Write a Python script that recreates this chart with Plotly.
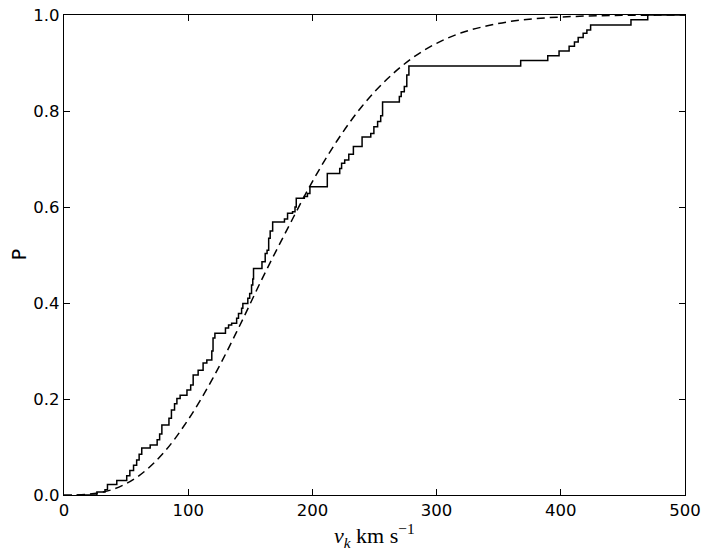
import plotly.graph_objects as go

step_v = [10, 26.5, 33, 35, 42.5, 50.5, 53, 56, 58.5, 60.5, 62.6, 69.4, 75, 77, 78.8,
          84.5, 86.5, 89, 90.9, 93.5, 99, 102, 104, 108, 112, 115, 119, 120, 121.5,
          130, 132.5, 135, 139, 140.5, 143, 144, 148, 149.5, 151, 152, 152.6, 159.4,
          162, 163.5, 164.8, 166, 168, 177.5, 180, 184, 186, 187, 193.5, 196, 198,
          212, 222, 223.5, 226, 229.3, 233, 240, 247, 249.5, 252.5, 255, 256.5, 270,
          271.5, 274, 276, 277.7, 367.7, 389.5, 398.6, 406.7, 411, 414, 418, 421,
          424, 456.5, 470, 500]
step_p = [0.0, 0.006, 0.011, 0.022, 0.030, 0.040, 0.051, 0.062, 0.073, 0.085, 0.098,
          0.104, 0.115, 0.127, 0.146, 0.160, 0.177, 0.190, 0.201, 0.208, 0.219, 0.229,
          0.250, 0.260, 0.275, 0.281, 0.300, 0.327, 0.337, 0.348, 0.354, 0.358, 0.368,
          0.378, 0.389, 0.399, 0.410, 0.420, 0.4375, 0.450, 0.472, 0.486, 0.503, 0.510,
          0.535, 0.550, 0.569, 0.575, 0.587, 0.590, 0.600, 0.618, 0.622, 0.628, 0.642,
          0.670, 0.680, 0.691, 0.698, 0.710, 0.726, 0.746, 0.753, 0.767, 0.778, 0.790,
          0.819, 0.830, 0.840, 0.851, 0.875, 0.894, 0.905, 0.915, 0.925, 0.935, 0.944,
          0.953, 0.962, 0.969, 0.979, 0.990, 1.0, 1.0]

# Smooth model curve (dashed)
model_v = [0, 20, 40, 60, 80, 100, 120, 140, 160, 180, 200, 220, 240, 260, 280, 300,
           320, 340, 360, 380, 400, 420, 440, 460, 480, 500]
model_p = [0.0, 0.0016, 0.0123, 0.0395, 0.0874, 0.157, 0.244, 0.345, 0.453, 0.555,
           0.653, 0.7385, 0.810, 0.866, 0.9095, 0.941, 0.963, 0.977, 0.9868, 0.9925,
           0.9958, 0.9978, 0.9989, 0.9995, 0.9998, 0.9999]

x_ticks = [0, 100, 200, 300, 400, 500]
y_ticks = [0.0, 0.2, 0.4, 0.6, 0.8, 1.0]

fig = go.Figure()
fig.add_trace(go.Scatter(x=model_v, y=model_p, mode="lines", line_shape="spline",
                         line=dict(color="black", width=1.5, dash="8px,5px"),
                         showlegend=False, hoverinfo="skip"))
fig.add_trace(go.Scatter(x=step_v, y=step_p, mode="lines", line_shape="hv",
                         line=dict(color="black", width=1.5),
                         showlegend=False, hoverinfo="skip"))

axis_common = dict(showgrid=False, zeroline=False, showline=True, linecolor="black",
                   linewidth=1.2, mirror="ticks", ticks="inside", ticklen=6,
                   tickcolor="black", tickwidth=1, automargin=False,
                   tickfont=dict(family="DejaVu Sans", size=16.5, color="black"))
fig.update_xaxes(range=[0, 500], tickvals=x_ticks, ticktext=[str(t) for t in x_ticks],
                 **axis_common)
fig.update_yaxes(range=[0, 1.0], tickvals=y_ticks, ticktext=[f"{t:.1f}" for t in y_ticks],
                 **axis_common)

fig.add_annotation(text="<i>v</i><sub><i>k</i></sub> km s<sup>−1</sup>",
                   xref="paper", yref="paper", x=0.5, y=-0.084, xanchor="center",
                   yanchor="middle", showarrow=False,
                   font=dict(family="Liberation Serif", size=22, color="black"))
fig.add_annotation(text="P", xref="paper", yref="paper", x=-0.072, y=0.5,
                   xanchor="center", yanchor="middle", textangle=-90, showarrow=False,
                   font=dict(family="DejaVu Sans", size=19, color="black"))

fig.update_layout(width=707, height=560, plot_bgcolor="white", paper_bgcolor="white",
                  margin=dict(l=64, r=22, t=15, b=65))
fig.write_html("out.html", config={"displayModeBar": False},
               post_script="document.body.style.margin='0';"
                           "document.body.style.overflow='hidden';")
